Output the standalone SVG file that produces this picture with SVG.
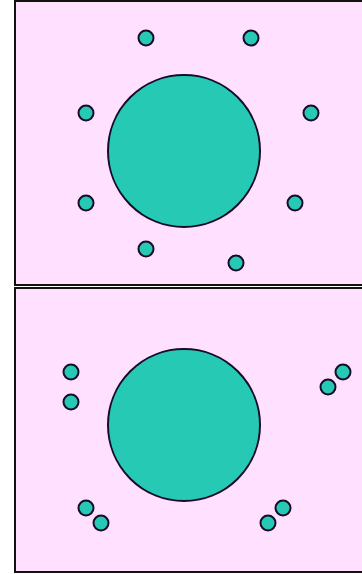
<svg xmlns="http://www.w3.org/2000/svg" width="362" height="574" viewBox="0 0 362 574">
<style>
.panel{fill:#ffe0ff;stroke:#111;stroke-width:2}
.big{fill:#26c9b3;stroke:#1a0a2a;stroke-width:2}
.dot{fill:#26c9b3;stroke:#1a0a2a;stroke-width:2}
</style>
<g id="panel-top">
<rect class="panel" x="15" y="1" width="360" height="284"/>
<circle class="big" cx="184" cy="151" r="76"/>
<circle class="dot" cx="146" cy="38" r="7.5"/>
<circle class="dot" cx="251" cy="38" r="7.5"/>
<circle class="dot" cx="86" cy="113" r="7.5"/>
<circle class="dot" cx="311" cy="113" r="7.5"/>
<circle class="dot" cx="86" cy="203" r="7.5"/>
<circle class="dot" cx="295" cy="203" r="7.5"/>
<circle class="dot" cx="146" cy="249" r="7.5"/>
<circle class="dot" cx="236" cy="263" r="7.5"/>
</g>
<g id="panel-bottom">
<rect class="panel" x="15" y="288" width="360" height="284"/>
<circle class="big" cx="184" cy="425" r="76"/>
<circle class="dot" cx="71" cy="372" r="7.5"/>
<circle class="dot" cx="71" cy="402" r="7.5"/>
<circle class="dot" cx="343" cy="372" r="7.5"/>
<circle class="dot" cx="328" cy="387" r="7.5"/>
<circle class="dot" cx="86" cy="508" r="7.5"/>
<circle class="dot" cx="101" cy="523" r="7.5"/>
<circle class="dot" cx="283" cy="508" r="7.5"/>
<circle class="dot" cx="268" cy="523" r="7.5"/>
</g>
<g id="connectors"/>
</svg>
